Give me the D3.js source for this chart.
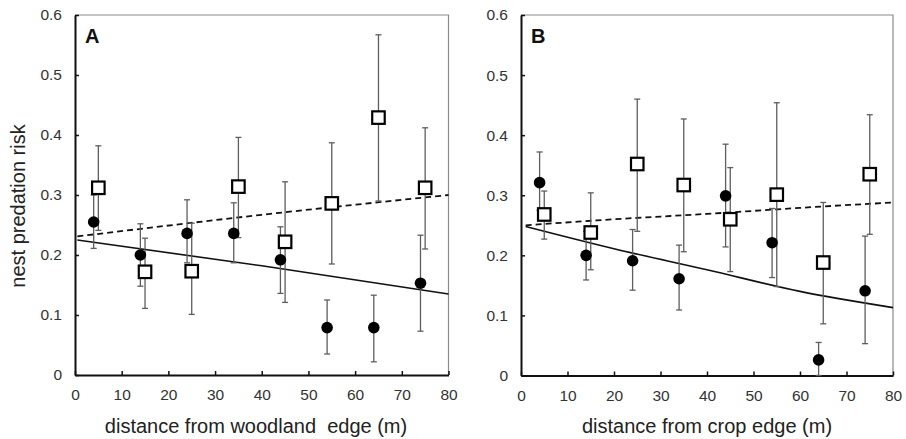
<!DOCTYPE html>
<html>
<head>
<meta charset="utf-8">
<script src="https://cdn.jsdelivr.net/npm/d3@7"></script>
<style>
    body { margin: 0; background: #fff; }
    svg { display: block; font-family: Arial, "Liberation Sans", sans-serif; }
    .axis text { font-size: 15.5px; fill: #333; }
    .axisLabel { font-size: 20px; fill: #222; }
    .panelLabel { font-size: 20px; font-weight: bold; fill: #111; }
</style>
</head>
<body>
<div id="canvas"></div>
<script>
"use strict"

// ---------------- DATA ----------------
// x positions (m): filled circles offset left, open squares offset right
let circleDist = [4, 14, 24, 34, 44, 54, 64, 74]
let squareDist = [5, 15, 25, 35, 45, 55, 65, 75]

// panel A - woodland edge
let woodCircle = [0.255, 0.200, 0.236, 0.236, 0.192, 0.079, 0.079, 0.153]
let woodCircleLo = [0.211, 0.148, 0.187, 0.187, 0.136, 0.035, 0.022, 0.073]
let woodCircleHi = [0.300, 0.252, 0.292, 0.287, 0.247, 0.125, 0.133, 0.233]
let woodSquare = [0.312, 0.172, 0.173, 0.314, 0.222, 0.286, 0.429, 0.312]
let woodSquareLo = [0.241, 0.111, 0.101, 0.229, 0.121, 0.185, 0.290, 0.210]
let woodSquareHi = [0.382, 0.228, 0.253, 0.396, 0.322, 0.387, 0.567, 0.412]
let woodFitX = [0.5, 40, 80]
let woodFitSolid = [0.225, 0.182, 0.135]
let woodFitDashed = [0.231, 0.267, 0.300]

// panel B - crop edge
let cropCircle = [0.321, 0.200, 0.191, 0.161, 0.299, 0.221, 0.026, 0.141]
let cropCircleLo = [0.275, 0.159, 0.142, 0.109, 0.214, 0.163, 0.000, 0.053]
let cropCircleHi = [0.372, 0.240, 0.243, 0.217, 0.385, 0.278, 0.055, 0.232]
let cropSquare = [0.268, 0.238, 0.352, 0.317, 0.260, 0.301, 0.188, 0.335]
let cropSquareLo = [0.227, 0.176, 0.240, 0.206, 0.173, 0.148, 0.086, 0.235]
let cropSquareHi = [0.307, 0.304, 0.460, 0.427, 0.346, 0.454, 0.288, 0.434]
let cropFitX = [1, 20, 40, 60, 80]
let cropFitSolid = [0.248, 0.211, 0.176, 0.140, 0.113]
let cropFitDashed = [0.250, 0.260, 0.269, 0.279, 0.288]

let xTicks = [0, 10, 20, 30, 40, 50, 60, 70, 80]
let yTicks = [0, 0.1, 0.2, 0.3, 0.4, 0.5, 0.6]

let svgWidth = 906
let svgHeight = 439

let svg = d3.select("#canvas")
    .append("svg")
    .attr("width", svgWidth)
    .attr("height", svgHeight)

// ---------------- PANELS ----------------
drawPanel({
    left: 75, right: 448.5, top: 15, bottom: 375,
    label: "A",
    xTitle: "distance from woodland\u00a0 edge (m)",
    titleX: 256,
    circle: woodCircle, circleLo: woodCircleLo, circleHi: woodCircleHi,
    square: woodSquare, squareLo: woodSquareLo, squareHi: woodSquareHi,
    fitX: woodFitX, fitSolid: woodFitSolid, fitDashed: woodFitDashed
})

drawPanel({
    left: 521, right: 893, top: 15, bottom: 375.5,
    label: "B",
    xTitle: "distance from crop edge (m)",
    titleX: 707,
    circle: cropCircle, circleLo: cropCircleLo, circleHi: cropCircleHi,
    square: cropSquare, squareLo: cropSquareLo, squareHi: cropSquareHi,
    fitX: cropFitX, fitSolid: cropFitSolid, fitDashed: cropFitDashed
})

svg.append("text")
    .attr("class", "axisLabel")
    .attr("transform", "rotate(-90)")
    .attr("x", -206)
    .attr("y", 25)
    .attr("text-anchor", "middle")
    .text("nest predation risk")

function drawPanel(p) {

    let xScale = d3.scaleLinear()
        .domain([0, 80])
        .range([p.left, p.right])

    let yScale = d3.scaleLinear()
        .domain([0, 0.6])
        .range([p.bottom, p.top])

    let g = svg.append("g")

    // frame: thin grey top/right
    g.append("path")
        .attr("d", `M${p.left},${p.top}H${p.right}V${p.bottom}`)
        .attr("fill", "none")
        .attr("stroke", "#8a8a8a")
        .attr("stroke-width", 1.2)

    let xAxis = d3.axisBottom(xScale)
        .tickValues(xTicks)
        .tickFormat(d3.format("d"))
        .tickSizeInner(-4)
        .tickSizeOuter(0)
        .tickPadding(14)

    let yAxis = d3.axisLeft(yScale)
        .tickValues(yTicks)
        .tickFormat(function(d) { return d === 0 ? "0" : d3.format(".1f")(d) })
        .tickSizeInner(-4)
        .tickSizeOuter(0)
        .tickPadding(13)

    let xg = g.append("g")
        .attr("class", "axis")
        .attr("transform", `translate(0,${p.bottom})`)
        .call(xAxis)

    let yg = g.append("g")
        .attr("class", "axis")
        .attr("transform", `translate(${p.left},0)`)
        .call(yAxis)

    xg.select(".domain").attr("stroke", "#111").attr("stroke-width", 2)
    yg.select(".domain").attr("stroke", "#111").attr("stroke-width", 2)
    xg.selectAll(".tick line").attr("stroke", "#111").attr("stroke-width", 1.5)
    yg.selectAll(".tick line").attr("stroke", "#111").attr("stroke-width", 1.5)

    g.append("text")
        .attr("class", "panelLabel")
        .attr("x", p.left + 10)
        .attr("y", p.top + 28)
        .text(p.label)

    g.append("text")
        .attr("class", "axisLabel")
        .attr("x", p.titleX)
        .attr("y", 433)
        .attr("text-anchor", "middle")
        .text(p.xTitle)

    // fitted lines
    let line = d3.line()
        .x(function(d) { return xScale(d[0]) })
        .y(function(d) { return yScale(d[1]) })
        .curve(d3.curveMonotoneX)

    g.append("path")
        .datum(d3.zip(p.fitX, p.fitSolid))
        .attr("d", line)
        .attr("fill", "none")
        .attr("stroke", "#111")
        .attr("stroke-width", 1.6)

    g.append("path")
        .datum(d3.zip(p.fitX, p.fitDashed))
        .attr("d", line)
        .attr("fill", "none")
        .attr("stroke", "#111")
        .attr("stroke-width", 1.8)
        .attr("stroke-dasharray", "6,4")

    let circles = circleDist.map(function(d, i) {
        return { x: d, y: p.circle[i], lo: p.circleLo[i], hi: p.circleHi[i] }
    })
    let squares = squareDist.map(function(d, i) {
        return { x: d, y: p.square[i], lo: p.squareLo[i], hi: p.squareHi[i] }
    })

    drawErrorBars(g, circles.concat(squares), xScale, yScale)

    g.selectAll("circle.pt")
        .data(circles)
        .enter()
        .append("circle")
        .attr("class", "pt")
        .attr("cx", function(d) { return xScale(d.x) })
        .attr("cy", function(d) { return yScale(d.y) })
        .attr("r", 5.8)
        .attr("fill", "#000")

    let s = 12.5
    g.selectAll("rect.pt")
        .data(squares)
        .enter()
        .append("rect")
        .attr("class", "pt")
        .attr("x", function(d) { return xScale(d.x) - s / 2 })
        .attr("y", function(d) { return yScale(d.y) - s / 2 })
        .attr("width", s)
        .attr("height", s)
        .attr("fill", "#fff")
        .attr("stroke", "#000")
        .attr("stroke-width", 2.2)
}

function drawErrorBars(g, data, xScale, yScale) {

    let bars = g.selectAll("g.err")
        .data(data)
        .enter()
        .append("g")
        .attr("class", "err")
        .attr("stroke", "#5e5e5e")
        .attr("stroke-width", 1.3)

    bars.append("line")
        .attr("x1", function(d) { return xScale(d.x) })
        .attr("x2", function(d) { return xScale(d.x) })
        .attr("y1", function(d) { return yScale(d.lo) })
        .attr("y2", function(d) { return yScale(d.hi) })

    bars.append("line")
        .attr("x1", function(d) { return xScale(d.x) - 3 })
        .attr("x2", function(d) { return xScale(d.x) + 3 })
        .attr("y1", function(d) { return yScale(d.hi) })
        .attr("y2", function(d) { return yScale(d.hi) })

    bars.append("line")
        .attr("x1", function(d) { return xScale(d.x) - 3 })
        .attr("x2", function(d) { return xScale(d.x) + 3 })
        .attr("y1", function(d) { return yScale(d.lo) })
        .attr("y2", function(d) { return yScale(d.lo) })
}
</script>
</body>
</html>
